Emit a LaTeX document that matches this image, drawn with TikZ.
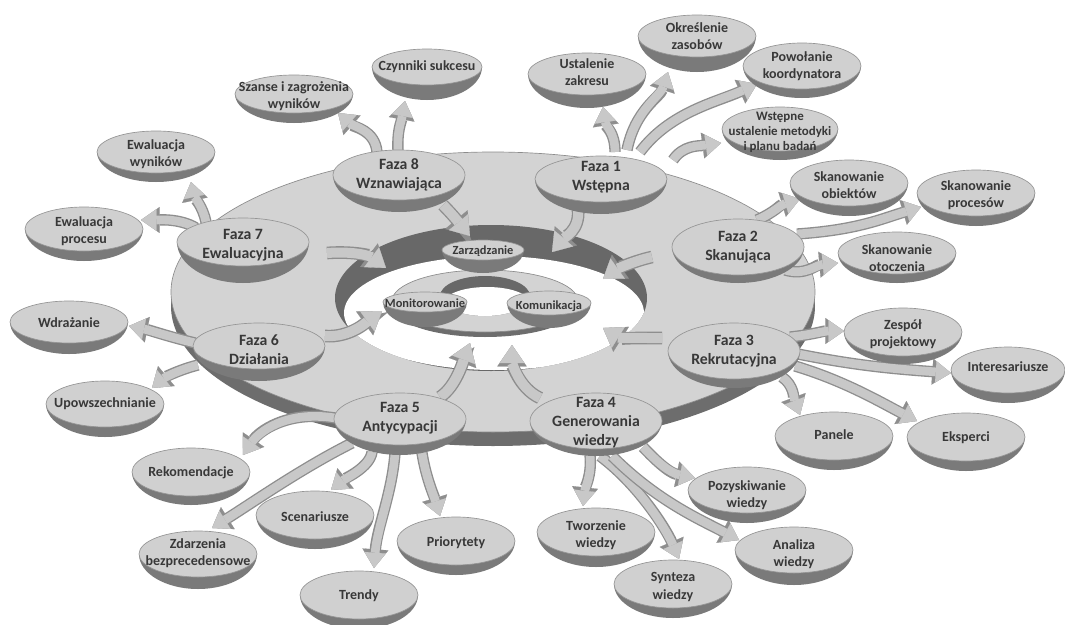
\documentclass[tikz,border=0pt]{standalone}
\usepackage{fontspec}
\setmainfont{Carlito}
\usetikzlibrary{arrows.meta,calc}
\pgfdeclarelayer{back}
\pgfdeclarelayer{mid}
\pgfsetlayers{back,mid,main}
\definecolor{disctop}{HTML}{D3D3D3}
\definecolor{discline}{HTML}{8C8C8C}
\definecolor{discdark}{HTML}{6D6D6D}
\definecolor{holedark}{HTML}{686868}
\definecolor{bowltopc}{HTML}{D0D0D0}
\definecolor{bowlline}{HTML}{959595}
\definecolor{bowldarkc}{HTML}{7A7A7A}
\definecolor{arredge}{HTML}{8E8E8E}
\definecolor{arrfill}{HTML}{C8C8C8}
\definecolor{txt}{HTML}{383838}
\tikzset{
  bowldark/.style={fill=bowldarkc},
  bowltop/.style={fill=bowltopc, draw=bowlline, line width=0.5pt},
  lbl/.style={text=txt, align=center, inner sep=0pt},
  big/.style={font=\bfseries\fontsize{11.8}{14.2}\selectfont},
  small/.style={font=\bfseries\fontsize{10.5}{12.8}\selectfont},
  tiny/.style={font=\bfseries\fontsize{9.7}{11.3}\selectfont},
  inner/.style={font=\bfseries\fontsize{9.3}{11}\selectfont},
  oarrbase/.style={line width=8.5pt, draw=arredge, -{Triangle[width=19.5pt,length=14pt,line width=0.1pt]}},
  oarrtop/.style={line width=6.5pt, draw=arrfill, -{Triangle[width=16pt,length=11.5pt,line width=0.1pt]}},
  rarrbase/.style={line width=9.5pt, draw=arredge, -{Triangle[width=22pt,length=16pt,line width=0.1pt]}},
  rarrtop/.style={line width=7.5pt, draw=arrfill, -{Triangle[width=18.5pt,length=13.5pt,line width=0.1pt]}},
}
\newcommand\bowl[9]{%
  \fill[bowldark] (#2-#4,#3) arc[start angle=180,end angle=0,x radius=#4,y radius=#5+#6] -- cycle;
  \filldraw[bowltop] (#2,#3) ellipse[x radius=#4,y radius=#5];
  \node[lbl,#8] (#1) at (#2,#7) {#9};
}
\newcommand\oarr[1]{\draw[oarrbase] #1; \draw[oarrtop] #1;}
\newcommand\rarr[1]{\draw[rarrbase] #1; \draw[rarrtop] #1;}
\begin{document}
\begin{tikzpicture}[x=0.75pt,y=-0.75pt]
\useasboundingbox (0,0) rectangle (1065,625);
\begin{pgfonlayer}{back}
  \fill[white] (0,0) rectangle (1065,625);
  % big disc
  \fill[discdark] (493,306) ellipse[x radius=322,y radius=140];
  \filldraw[fill=disctop, draw=discline, line width=0.5pt] (493,292) ellipse[x radius=322,y radius=140];
  % hole
  \fill[holedark] (491,298) ellipse[x radius=156,y radius=73];
  \begin{scope}
    \clip (491,298) ellipse[x radius=156,y radius=73];
    \fill[white] (494,313) ellipse[x radius=150,y radius=57];
  \end{scope}
  % inner disc
  \fill[discdark] (485,306) ellipse[x radius=93,y radius=31];
  \filldraw[fill=disctop, draw=discline, line width=0.5pt] (485,301) ellipse[x radius=93,y radius=31];
  \fill[holedark] (485,296) ellipse[x radius=45,y radius=20];
  \begin{scope}
    \clip (485,296) ellipse[x radius=45,y radius=20];
    \fill[white] (487,302) ellipse[x radius=42,y radius=15];
  \end{scope}
\end{pgfonlayer}
% ring targets
\coordinate (r8) at (470,236);
\coordinate (r1) at (552,252);
\coordinate (r2) at (603,279);
\coordinate (r3) at (603,328);
\coordinate (r4) at (512,345);
\coordinate (r5) at (470,343);
\coordinate (r6) at (382,311);
\coordinate (r7) at (386,268);
% inner nodes
\bowl{zar}{483}{250}{41}{10}{13}{251}{inner}{Zarządzanie}
\bowl{mon}{425}{302}{42}{10}{15}{303}{inner}{Monitorowanie}
\bowl{kom}{549}{303}{42}{12}{13}{306}{inner}{Komunikacja}
% outer nodes (top to bottom)
\bowl{okr}{697}{36}{59}{21}{15}{36}{small}{Określenie\\zasobów}
\bowl{czy}{427}{67}{55}{18}{15}{67}{small}{Czynniki sukcesu}
\bowl{pow}{802}{66}{59}{23}{9}{66}{small}{Powołanie\\koordynatora}
\bowl{ust}{587}{74}{59}{21}{13}{72}{small}{Ustalenie\\zakresu}
\bowl{sza}{294}{94}{59}{19}{10}{96}{small}{Szanse i zagrożenia\\wyników}
\bowl{wst}{780}{129}{58}{22}{9}{132}{tiny}{Wstępne\\ustalenie metodyki\\i planu badań}
\bowl{ewy}{156}{152}{59}{21}{9}{154}{small}{Ewaluacja\\wyników}
\bowl{sob}{849}{183}{59}{23}{10}{185}{small}{Skanowanie\\obiektów}
\bowl{spr}{976}{193}{59}{23}{10}{195}{small}{Skanowanie\\procesów}
\bowl{epr}{84}{229}{59}{22}{10}{231}{small}{Ewaluacja\\procesu}
\bowl{sot}{897}{253}{59}{21}{9}{258}{small}{Skanowanie\\otoczenia}
\bowl{wdr}{69}{322}{59}{21}{11}{323}{small}{Wdrażanie}
\bowl{zes}{903}{332}{59}{24}{8}{334}{small}{Zespół\\projektowy}
\bowl{int}{1008}{370}{57}{23}{10}{367}{small}{Interesariusze}
\bowl{upo}{105}{404}{59}{23}{10}{404}{small}{Upowszechnianie}
\bowl{pan}{834}{436}{59}{24}{10}{435}{small}{Panele}
\bowl{eks}{966}{437}{59}{24}{10}{438}{small}{Eksperci}
\bowl{rek}{191}{472}{59}{24}{9}{473}{small}{Rekomendacje}
\bowl{poz}{747}{490}{59}{23}{10}{495}{small}{Pozyskiwanie\\wiedzy}
\bowl{sce}{315}{515}{59}{24}{10}{517}{small}{Scenariusze}
\bowl{tw}{596}{532}{59}{24}{11}{535}{small}{Tworzenie\\wiedzy}
\bowl{pri}{456}{541}{59}{24}{10}{543}{small}{Priorytety}
\bowl{ana}{794}{550}{59}{23}{12}{554}{small}{Analiza\\wiedzy}
\bowl{zda}{198}{554}{59}{23}{12}{553}{small}{Zdarzenia\\bezprecedensowe}
\bowl{syn}{673}{584}{59}{24}{10}{587}{small}{Synteza\\wiedzy}
\bowl{tre}{359}{595}{59}{24}{10}{596}{small}{Trendy}
% phase nodes
\bowl{f8}{399}{175}{66}{25}{12}{175}{big}{Faza 8\\Wznawiająca}
\bowl{f1}{601}{179}{66}{23}{12}{177}{big}{Faza 1\\Wstępna}
\bowl{f7}{243}{242}{66}{24}{17}{245}{big}{Faza 7\\Ewaluacyjna}
\bowl{f2}{738}{247}{66}{28}{8}{247}{big}{Faza 2\\Skanująca}
\bowl{f6}{259}{346}{66}{23}{12}{350}{big}{Faza 6\\Działania}
\bowl{f3}{734}{351}{66}{28}{9}{351}{big}{Faza 3\\Rekrutacyjna}
\bowl{f5}{400}{419}{66}{26}{10}{418}{big}{Faza 5\\Antycypacji}
\bowl{f4}{596}{421}{66}{28}{7}{423}{big}{Faza 4\\Generowania\\wiedzy}
\begin{pgfonlayer}{mid}
% Faza 8
\oarr{($(f8)+(-1,-23)$) .. controls +(-1,-22) and +(-4,22) .. ($(czy)+(-22,34)$)}
\oarr{($(f8)+(-22,-23)$) .. controls +(-2,-22) and +(16,14) .. ($(sza)+(44,17)$)}
\rarr{($(f8)+(44,30)$) .. controls +(10,10) and +(-10,-12) .. (r8)}
% Faza 1
\oarr{($(f1)+(14,-25)$) .. controls +(0,-20) and +(3,20) .. ($(ust)+(16,35)$)}
\oarr{($(f1)+(26,-27)$) .. controls +(8,-40) and +(-8,25) .. ($(okr)+(-29,36)$)}
\oarr{($(f1)+(39,-25)$) .. controls +(30,-40) and +(-40,18) .. ($(pow)+(-45,18)$)}
\oarr{($(f1)+(72,-17)$) .. controls +(10,-15) and +(-22,3) .. ($(wst)+(-59,11)$)}
\rarr{($(f1)+(-23,33)$) .. controls +(2,20) and +(12,-14) .. (r1)}
% Faza 2
\oarr{($(f2)+(19,-27)$) .. controls +(18,-8) and +(-20,6) .. ($(sob)+(-49,14)$)}
\oarr{($(f2)+(59,-13)$) .. controls +(60,-4) and +(-40,12) .. ($(spr)+(-55,12)$)}
\oarr{($(f2)+(47,23)$) .. controls +(20,6) and +(-22,2) .. ($(sot)+(-59,5)$)}
\rarr{($(f2)+(-86,10)$) .. controls +(-18,4) and +(14,-10) .. (r2)}
% Faza 3
\oarr{($(f3)+(56,-14)$) .. controls +(20,-2) and +(-20,0) .. ($(zes)+(-59,-3)$)}
\oarr{($(f3)+(64,3)$) .. controls +(60,12) and +(-55,-4) .. ($(int)+(-57,6)$)}
\oarr{($(f3)+(61,15)$) .. controls +(50,15) and +(-35,-18) .. ($(eks)+(-49,-17)$)}
\oarr{($(f3)+(48,26)$) .. controls +(12,8) and +(-6,-16) .. ($(pan)+(-34,-20)$)}
\rarr{($(f3)+(-72,-13)$) .. controls +(-28,0) and +(16,10) .. (r3)}
% Faza 4
\oarr{($(f4)+(-6,32)$) .. controls +(2,20) and +(2,-18) .. ($(tw)+(-13,-29)$)}
\oarr{($(f4)+(4,33)$) .. controls +(40,30) and +(-12,-28) .. ($(syn)+(6,-28)$)}
\oarr{($(f4)+(16,33)$) .. controls +(45,45) and +(-38,-20) .. ($(ana)+(-55,-14)$)}
\oarr{($(f4)+(47,24)$) .. controls +(15,16) and +(-25,-5) .. ($(poz)+(-52,-17)$)}
\rarr{($(f4)+(-56,-25)$) .. controls +(-22,-10) and +(0,16) .. (r4)}
% Faza 5
\oarr{($(f5)+(-65,0)$) .. controls +(-50,-8) and +(15,-22) .. ($(rek)+(52,-18)$)}
\oarr{($(f5)+(-48,25)$) .. controls +(-50,25) and +(40,-25) .. ($(zda)+(14,-25)$)}
\oarr{($(f5)+(-28,34)$) .. controls +(-2,15) and +(15,-12) .. ($(sce)+(16,-27)$)}
\oarr{($(f5)+(-5,35)$) .. controls +(-3,40) and +(3,-40) .. ($(tre)+(15,-28)$)}
\oarr{($(f5)+(22,35)$) .. controls +(4,25) and +(-6,-20) .. ($(pri)+(-16,-27)$)}
\rarr{($(f5)+(40,-21)$) .. controls +(16,-10) and +(-6,16) .. (r5)}
% Faza 6
\oarr{($(f6)+(-64,-7)$) .. controls +(-25,-6) and +(20,4) .. ($(wdr)+(60,3)$)}
\oarr{($(f6)+(-61,15)$) .. controls +(-20,5) and +(12,-10) .. ($(upo)+(47,-16)$)}
\rarr{($(f6)+(66,-14)$) .. controls +(25,2) and +(-14,10) .. (r6)}
% Faza 7
\oarr{($(f7)+(-37,-23)$) .. controls +(-3,-15) and +(3,14) .. ($(ewy)+(35,28)$)}
\oarr{($(f7)+(-47,-17)$) .. controls +(-16,-10) and +(16,0) .. ($(epr)+(57,-11)$)}
\rarr{($(f7)+(84,8)$) .. controls +(28,-2) and +(-16,-12) .. (r7)}
\end{pgfonlayer}
\end{tikzpicture}
\end{document}
